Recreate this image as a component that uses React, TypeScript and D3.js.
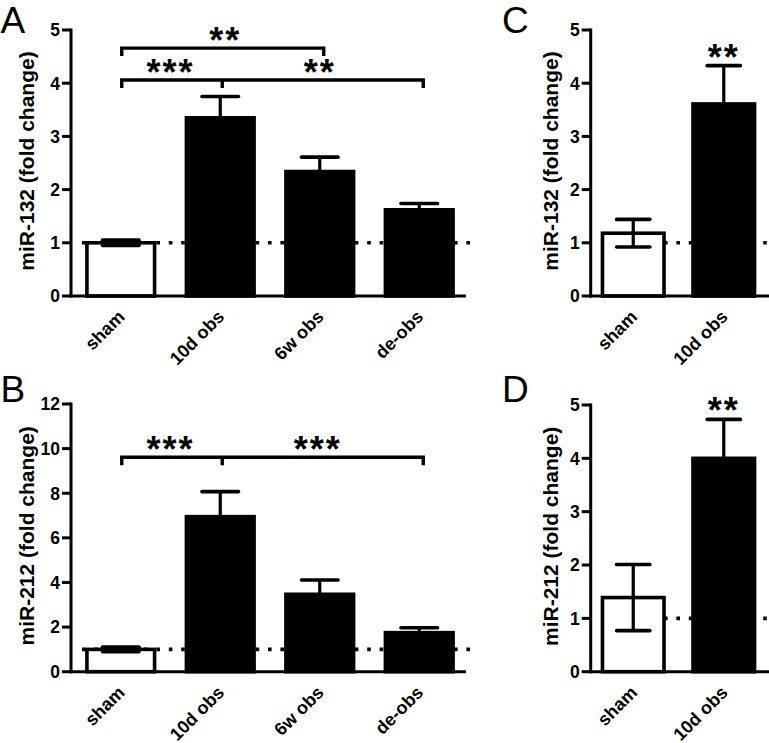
import React from "react";
import * as d3 from "d3";

const catsAB = ["sham", "10d obs", "6w obs", "de-obs"];
const catsCD = ["sham", "10d obs"];

const meanA = [1.0, 3.35, 2.34, 1.62];
const errA = [0.05, 0.4, 0.27, 0.12];
const meanB = [1.0, 6.95, 3.47, 1.75];
const errB = [0.1, 1.12, 0.64, 0.22];
const meanC = [1.18, 3.61];
const errC = [0.26, 0.72];
const meanD = [1.39, 4.0];
const errD = [0.62, 0.73];

const ticksA = [0, 1, 2, 3, 4, 5];
const ticksB = [0, 2, 4, 6, 8, 10, 12];
const ticksC = [0, 1, 2, 3, 4, 5];
const ticksD = [0, 1, 2, 3, 4, 5];

const bracketsA = [
  { from: 0, to: 2, level: 4.66, mid: null },
  { from: 0, to: 3, level: 4.06, mid: 1 },
];
const bracketsB = [{ from: 0, to: 3, level: 9.61, mid: 1 }];
const starsA = [
  { at: 1.05, level: 4.66, text: "**" },
  { at: 0.5, level: 4.06, text: "***" },
  { at: 2.0, level: 4.06, text: "**" },
];
const starsB = [
  { at: 0.5, level: 9.61, text: "***" },
  { at: 1.98, level: 9.61, text: "***" },
];
const starsC = [{ at: 1, text: "**" }];
const starsD = [{ at: 1, text: "**" }];

const FONT = "'Liberation Sans', Arial, Helvetica, sans-serif";

type PanelProps = {
  letter: string;
  letterX: number;
  letterY: number;
  cats: string[];
  means: number[];
  errs: number[];
  ticks: number[];
  yMax: number;
  yTop: number;
  yBottom: number;
  xLeft: number;
  xRangeEnd: number;
  axisEnd: number;
  padIn: number;
  padOut: number;
  ylabel: string;
  ylabelX: number;
  dotStart: number;
  dotEnd: number;
  brackets?: { from: number; to: number; level: number; mid: number | null }[];
  stars?: { at: number; level?: number; text: string }[];
};

function Panel(p: PanelProps) {
  const y = d3.scaleLinear().domain([0, p.yMax]).range([p.yBottom, p.yTop]);
  const x = d3
    .scaleBand<string>()
    .domain(p.cats)
    .range([p.xLeft, p.xRangeEnd])
    .paddingInner(p.padIn)
    .paddingOuter(p.padOut);
  const bw = x.bandwidth();
  const cx = (i: number) => (x(p.cats[0]) as number) + bw / 2 + i * x.step();
  const capW = bw * 0.54;
  const labelCenter = (p.yTop + p.yBottom) / 2 - 2;
  const sw = 3.2;

  return (
    <g>
      <text x={p.letterX} y={p.letterY} fontFamily={FONT} fontSize={37} fill="#000">
        {p.letter}
      </text>
      <text
        transform={`translate(${p.ylabelX},${labelCenter}) rotate(-90)`}
        textAnchor="middle"
        fontFamily={FONT}
        fontWeight="bold"
        fontSize={21}
      >
        {p.ylabel}
      </text>
      <line
        x1={p.dotStart}
        x2={p.dotEnd}
        y1={y(1)}
        y2={y(1)}
        stroke="#000"
        strokeWidth={3.6}
        strokeDasharray="3.6 8.8"
      />
      {p.cats.map((c, i) => (
        <rect
          key={c}
          x={x(c)}
          y={y(p.means[i])}
          width={bw}
          height={y(0) - y(p.means[i])}
          fill={i === 0 ? "#fff" : "#000"}
          stroke="#000"
          strokeWidth={3.6}
        />
      ))}
      {p.cats.map((c, i) => {
        const m = p.means[i];
        const e = p.errs[i];
        const xc = cx(i);
        return (
          <g key={"e" + c} stroke="#000" strokeWidth={sw}>
            <line x1={xc} x2={xc} y1={y(m - e)} y2={y(m + e)} />
            <line x1={xc - capW / 2} x2={xc + capW / 2} y1={y(m + e)} y2={y(m + e)} strokeLinecap="round" strokeWidth={3.6} />
            <line x1={xc - capW / 2} x2={xc + capW / 2} y1={y(m - e)} y2={y(m - e)} strokeLinecap="round" strokeWidth={3.6} />
          </g>
        );
      })}
      <line x1={p.xLeft} x2={p.xLeft} y1={y(p.yMax) - 1.5} y2={y(0) + 1.5} stroke="#000" strokeWidth={3} />
      <line x1={p.xLeft - 1.5} x2={p.axisEnd} y1={y(0)} y2={y(0)} stroke="#000" strokeWidth={3} />
      {p.ticks.map((t) => (
        <g key={t}>
          <line x1={p.xLeft - 9} x2={p.xLeft} y1={y(t)} y2={y(t)} stroke="#000" strokeWidth={3} />
          <text
            x={p.xLeft - 11}
            y={y(t)}
            dy="0.36em"
            textAnchor="end"
            fontFamily={FONT}
            fontWeight="bold"
            fontSize={17.5}
          >
            {t}
          </text>
        </g>
      ))}
      {p.cats.map((c, i) => (
        <text
          key={"l" + c}
          transform={`translate(${cx(i) + 5},${y(0) + 22}) rotate(-45)`}
          textAnchor="end"
          fontFamily={FONT}
          fontWeight="bold"
          fontSize={18}
        >
          {c}
        </text>
      ))}
      {(p.brackets || []).map((b, k) => {
        const yy = y(b.level);
        const x1 = cx(b.from) + 1;
        const x2 = cx(b.to) + 4;
        const drop = 8;
        const pts = `${x1},${yy + drop} ${x1},${yy} ${x2},${yy} ${x2},${yy + drop}`;
        return (
          <g key={"b" + k} stroke="#000" strokeWidth={3.4} fill="none">
            <polyline points={pts} />
            {b.mid !== null && (
              <line x1={cx(b.mid) + 2} x2={cx(b.mid) + 2} y1={yy} y2={yy + drop} />
            )}
          </g>
        );
      })}
      {(p.stars || []).map((s, k) => {
        const xc = cx(0) + s.at * x.step();
        let inkBottom: number;
        if (s.level !== undefined) {
          inkBottom = y(s.level) - 4;
        } else {
          const i = Math.round(s.at);
          inkBottom = y(p.means[i] + p.errs[i]) - 5;
        }
        return (
          <text
            key={"s" + k}
            x={xc}
            y={inkBottom + 9}
            textAnchor="middle"
            fontFamily={FONT}
            fontWeight="bold"
            fontSize={36}
            letterSpacing={2}
          >
            {s.text}
          </text>
        );
      })}
    </g>
  );
}

export default function App() {
  return (
    <svg
      width={769}
      height={743}
      style={{ position: "absolute", left: 0, top: 0, background: "#fff" }}
    >
      <rect width={769} height={743} fill="#fff" />
      <Panel
        letter="A"
        letterX={0.5}
        letterY={33}
        cats={catsAB}
        means={meanA}
        errs={errA}
        ticks={ticksA}
        yMax={5}
        yTop={30}
        yBottom={296}
        xLeft={71}
        xRangeEnd={469}
        axisEnd={466}
        padIn={0.32}
        padOut={0.16}
        ylabel="miR-132 (fold change)"
        ylabelX={33.5}
        dotStart={82}
        dotEnd={470}
        brackets={bracketsA}
        stars={starsA}
      />
      <Panel
        letter="B"
        letterX={0.5}
        letterY={402}
        cats={catsAB}
        means={meanB}
        errs={errB}
        ticks={ticksB}
        yMax={12}
        yTop={404}
        yBottom={671.7}
        xLeft={71}
        xRangeEnd={469}
        axisEnd={466}
        padIn={0.32}
        padOut={0.16}
        ylabel="miR-212 (fold change)"
        ylabelX={33.5}
        dotStart={82}
        dotEnd={470}
        brackets={bracketsB}
        stars={starsB}
      />
      <Panel
        letter="C"
        letterX={502}
        letterY={33}
        cats={catsCD}
        means={meanC}
        errs={errC}
        ticks={ticksC}
        yMax={5}
        yTop={30}
        yBottom={296}
        xLeft={590.7}
        xRangeEnd={766.3}
        axisEnd={769}
        padIn={0.32}
        padOut={0.13}
        ylabel="miR-132 (fold change)"
        ylabelX={558}
        dotStart={602}
        dotEnd={769}
        stars={starsC}
      />
      <Panel
        letter="D"
        letterX={502}
        letterY={402}
        cats={catsCD}
        means={meanD}
        errs={errD}
        ticks={ticksD}
        yMax={5}
        yTop={405}
        yBottom={671.7}
        xLeft={590.7}
        xRangeEnd={766.3}
        axisEnd={769}
        padIn={0.32}
        padOut={0.13}
        ylabel="miR-212 (fold change)"
        ylabelX={558}
        dotStart={602}
        dotEnd={769}
        stars={starsD}
      />
    </svg>
  );
}
